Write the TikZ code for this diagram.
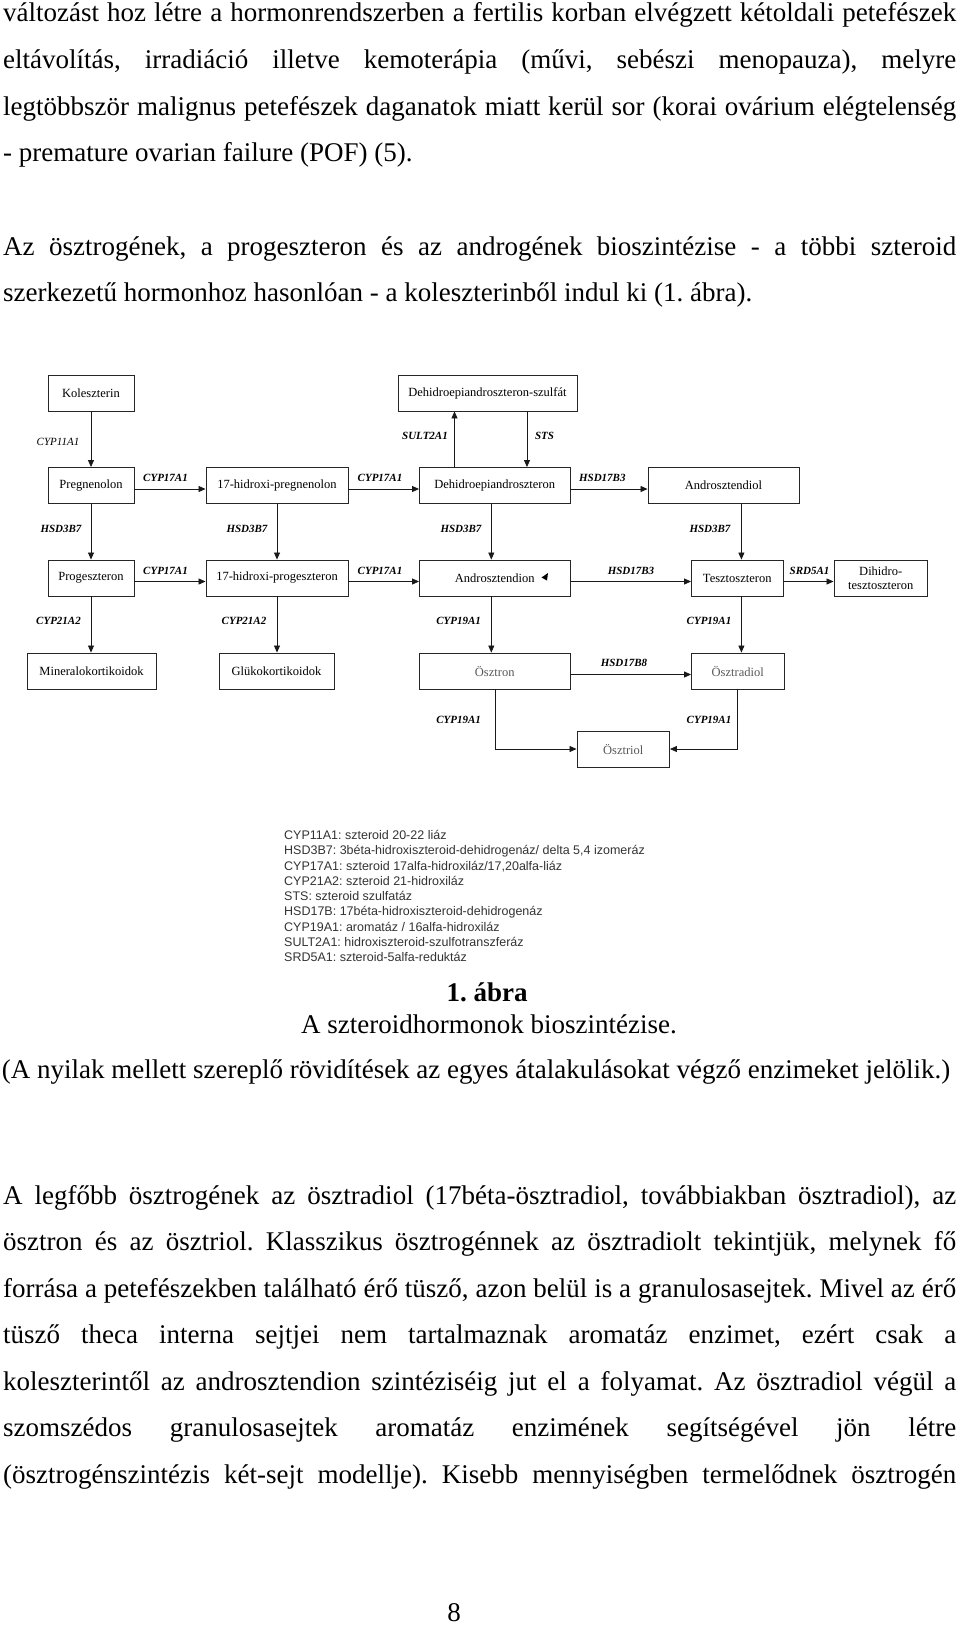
\documentclass[tikz,border=0pt]{standalone}
\usepackage{fontspec}
\setmainfont{Liberation Serif}
\newfontfamily\legendfont{Liberation Sans}
\usetikzlibrary{arrows.meta}
\frenchspacing
\newcommand{\bodyfs}{\fontsize{27}{31}\selectfont}
\newcommand{\jline}[3]{\node[anchor=base west,inner sep=0] (#1) at (3,#2) {\bodyfs\makebox[953pt][s]{#3}};}
\newcommand{\lline}[3]{\node[anchor=base west,inner sep=0] (#1) at (3,#2) {\bodyfs #3};}
\begin{document}
\begin{tikzpicture}[x=1pt,y=-1pt,
  box/.style={draw=black!85,line width=0.9pt,inner sep=0,minimum height=36pt,
    font=\fontsize{12.5}{14}\selectfont},
  enz/.style={inner sep=0,font=\fontsize{11}{12}\selectfont\bfseries\itshape},
  arr/.style={-{Triangle[length=7pt,width=6pt]},line width=0.8pt,draw=black!90},
  leg/.style={anchor=base west,inner sep=0,text=black!80,font=\legendfont\fontsize{12.5}{14}\selectfont}]
\useasboundingbox (0,0) rectangle (960,1626);
\fill[white] (0,0) rectangle (960,1626);

% top text
\jline{t1}{21.7}{változást hoz létre a hormonrendszerben a fertilis korban elvégzett kétoldali petefészek}
\jline{t2}{68.3}{eltávolítás, irradiáció illetve kemoterápia (művi, sebészi menopauza), melyre}
\jline{t3}{115}{legtöbbször malignus petefészek daganatok miatt kerül sor (korai ovárium elégtelenség}
\lline{t4}{161.5}{- premature ovarian failure (POF) (5).}
\jline{t5}{255}{Az ösztrogének, a progeszteron és az androgének bioszintézise - a többi szteroid}
\lline{t6}{301}{szerkezetű hormonhoz hasonlóan - a koleszterinből indul ki (1. ábra).}

% boxes
\node[box,minimum width=86pt]  (kol)   at (91,393)    {Koleszterin};
\node[box,minimum width=179pt] (dheas) at (487.5,393) {Dehidroepiandroszteron-szulfát};
\node[box,minimum width=86pt]  (preg)  at (91,485.5)  {Pregnenolon};
\node[box,minimum width=142pt] (ohpreg) at (277,485.5) {17-hidroxi-pregnenolon};
\node[box,minimum width=150.5pt] (dhea)  at (494.75,485.5) {Dehidroepiandroszteron};
\node[box,minimum width=151pt] (adiol) at (723.5,485.5) {Androsztendiol};
\node[box,minimum width=86pt]  (prog)  at (91,578)    {Progeszteron};
\node[box,minimum width=142pt] (ohprog) at (277,578)  {17-hidroxi-progeszteron};
\node[box,minimum width=150.5pt] (adion) at (494.75,578) {Androsztendion\hspace{22pt}};
\node[box,minimum width=91.5pt]  (testo) at (737.25,578)   {Tesztoszteron};
\node[box,minimum width=93.5pt,align=center] (dht) at (880.75,578) {Dihidro-\\tesztoszteron};
\node[box,minimum width=129pt] (mineral) at (91.5,671) {Mineralokortikoidok};
\node[box,minimum width=115pt] (gluko) at (276.5,671) {Glükokortikoidok};
\node[box,minimum width=150.5pt,text=black!65] (estrone) at (494.75,671) {Ösztron};
\node[box,minimum width=92.5pt,text=black!65] (estradiol) at (737.75,671) {Ösztradiol};
\node[box,minimum width=92.5pt,text=black!65] (estriol) at (623.25,749) {Ösztriol};
\fill (541.5,577.5) -- (548,573) -- (547,580.5) -- cycle;

% arrows
\draw[arr] (kol.south) -- (preg.north);
\draw[arr] ([yshift=-3.5pt]preg.east) -- ([yshift=-3.5pt]ohpreg.west);
\draw[arr] ([yshift=-3.5pt]ohpreg.east) -- ([yshift=-3.5pt]dhea.west);
\draw[arr] ([yshift=-3.5pt]dhea.east) -- ([yshift=-3.5pt]adiol.west);
\draw[arr] ([xshift=-40.25pt]dhea.north) -- ([xshift=-33pt]dheas.south);
\draw[arr] ([xshift=39.5pt]dheas.south) -- ([xshift=32.25pt]dhea.north);
\draw[arr] (preg.south) -- (prog.north);
\draw[arr] (ohpreg.south) -- (ohprog.north);
\draw[arr] ([xshift=-3.45pt]dhea.south) -- ([xshift=-3.45pt]adion.north);
\draw[arr] ([xshift=17.9pt]adiol.south) -- ([xshift=4.15pt]testo.north);
\draw[arr] ([yshift=-3.5pt]prog.east) -- ([yshift=-3.5pt]ohprog.west);
\draw[arr] ([yshift=-3.5pt]ohprog.east) -- ([yshift=-3.5pt]adion.west);
\draw[arr] ([yshift=-3.5pt]adion.east) -- ([yshift=-3.5pt]testo.west);
\draw[arr] ([yshift=-3.5pt]testo.east) -- ([yshift=-3.5pt]dht.west);
\draw[arr] (prog.south) -- (prog.south |- mineral.north);
\draw[arr] (ohprog.south) -- (ohprog.south |- gluko.north);
\draw[arr] ([xshift=-3.45pt]adion.south) -- ([xshift=-3.45pt]estrone.north);
\draw[arr] ([xshift=4.15pt]testo.south) -- ([xshift=3.65pt]estradiol.north);
\draw[arr] ([yshift=-3.5pt]estrone.east) -- ([yshift=-3.5pt]estradiol.west);
\draw[arr] ([xshift=0.25pt]estrone.south) |- (estriol.west);
\draw[arr] (estradiol.south) |- (estriol.east);

% enzyme labels
\node[enz,font=\fontsize{11}{12}\selectfont\itshape] (e1) at (58,442) {CYP11A1};
\node[enz] (e2) at (165.5,478) {CYP17A1};
\node[enz] (e3) at (380,478) {CYP17A1};
\node[enz] (e4) at (425,436) {SULT2A1};
\node[enz] (e5) at (544.6,436) {STS};
\node[enz] (e6) at (602.3,478) {HSD17B3};
\node[enz] (e7) at (61,529) {HSD3B7};
\node[enz] (e8) at (247,529) {HSD3B7};
\node[enz] (e9) at (461,529) {HSD3B7};
\node[enz] (e10) at (710,529) {HSD3B7};
\node[enz] (e11) at (165.5,571) {CYP17A1};
\node[enz] (e12) at (380,571) {CYP17A1};
\node[enz] (e13) at (631,571) {HSD17B3};
\node[enz] (e14) at (809.6,571) {SRD5A1};
\node[enz] (e15) at (58.5,621) {CYP21A2};
\node[enz] (e16) at (244,621) {CYP21A2};
\node[enz] (e17) at (458.6,621) {CYP19A1};
\node[enz] (e18) at (709,621) {CYP19A1};
\node[enz] (e19) at (624,663) {HSD17B8};
\node[enz] (e20) at (458.6,720) {CYP19A1};
\node[enz] (e21) at (709,720) {CYP19A1};

% legend
\node[leg] (l1) at (284,839.5) {CYP11A1: szteroid 20-22 liáz};
\node[leg] (l2) at (284,854.75) {HSD3B7: 3béta-hidroxiszteroid-dehidrogenáz/ delta 5,4 izomeráz};
\node[leg] (l3) at (284,870) {CYP17A1: szteroid 17alfa-hidroxiláz/17,20alfa-liáz};
\node[leg] (l4) at (284,885.25) {CYP21A2: szteroid 21-hidroxiláz};
\node[leg] (l5) at (284,900.5) {STS: szteroid szulfatáz};
\node[leg] (l6) at (284,915.75) {HSD17B: 17béta-hidroxiszteroid-dehidrogenáz};
\node[leg] (l7) at (284,931) {CYP19A1: aromatáz / 16alfa-hidroxiláz};
\node[leg] (l8) at (284,946.25) {SULT2A1: hidroxiszteroid-szulfotranszferáz};
\node[leg] (l9) at (284,961.5) {SRD5A1: szteroid-5alfa-reduktáz};

% caption
\node[anchor=base,inner sep=0] (c1) at (487,1001.7) {\bodyfs\bfseries 1. ábra};
\node[anchor=base,inner sep=0] (c2) at (489,1033.3) {\bodyfs A szteroidhormonok bioszintézise.};
\node[anchor=base,inner sep=0] (c3) at (476,1078.3) {\bodyfs (A nyilak mellett szereplő rövidítések az egyes átalakulásokat végző enzimeket jelölik.)};

% bottom text
\jline{b1}{1204.3}{A legfőbb ösztrogének az ösztradiol (17béta-ösztradiol, továbbiakban ösztradiol), az}
\jline{b2}{1250.7}{ösztron és az ösztriol. Klasszikus ösztrogénnek az ösztradiolt tekintjük, melynek fő}
\jline{b3}{1297}{forrása a petefészekben található érő tüsző, azon belül is a granulosasejtek. Mivel az érő}
\jline{b4}{1343.3}{tüsző theca interna sejtjei nem tartalmaznak aromatáz enzimet, ezért csak a}
\jline{b5}{1390}{koleszterintől az androsztendion szintéziséig jut el a folyamat. Az ösztradiol végül a}
\jline{b6}{1436.7}{szomszédos granulosasejtek aromatáz enzimének segítségével jön létre}
\jline{b7}{1483.3}{(ösztrogénszintézis két-sejt modellje). Kisebb mennyiségben termelődnek ösztrogén}

\node[anchor=base,inner sep=0] (pg) at (454,1621.7) {\bodyfs 8};
\end{tikzpicture}
\end{document}
